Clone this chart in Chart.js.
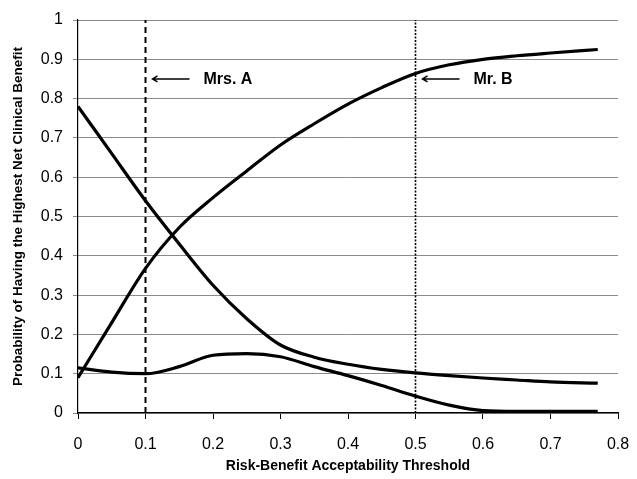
<!DOCTYPE html>
<html>
<head>
<meta charset="utf-8">
<script src="https://cdn.jsdelivr.net/npm/chart.js@4"></script>
<style>
    html, body { margin: 0; padding: 0; background: #fff; }
    #wrap { width: 637px; height: 479px; }
</style>
</head>
<body>
<div id="wrap"><canvas id="netBenefitChart" width="637" height="479"></canvas></div>
<script>
// thresholds on the x axis
const thresholds = [0, 0.05, 0.1, 0.15, 0.2, 0.25, 0.3, 0.35, 0.4, 0.45, 0.5, 0.55, 0.6, 0.65, 0.7, 0.77];
// the three strategies
const falling = [0.78, 0.66, 0.54, 0.43, 0.325, 0.24, 0.173, 0.142, 0.124, 0.111, 0.102, 0.095, 0.089, 0.084, 0.079, 0.076];
const rising = [0.09, 0.23, 0.368, 0.472, 0.548, 0.616, 0.682, 0.736, 0.786, 0.828, 0.864, 0.886, 0.9, 0.909, 0.916, 0.925];
const hump = [0.115, 0.104, 0.10, 0.118, 0.147, 0.151, 0.143, 0.118, 0.095, 0.07, 0.043, 0.02, 0.006, 0.004, 0.004, 0.004];
// patients marked on the chart
const patientNames = ['Mrs. A', 'Mr. B'];
const patientThresholds = [0.1, 0.5];
const patientLabelY = 0.85;
const xTicks = [0, 0.1, 0.2, 0.3, 0.4, 0.5, 0.6, 0.7, 0.8];
const yTicks = [0, 0.1, 0.2, 0.3, 0.4, 0.5, 0.6, 0.7, 0.8, 0.9, 1];

const FONT = '"Liberation Sans", Arial, sans-serif';

function toPoints(values) {
    return values.map((v, i) => ({ x: thresholds[i], y: v }));
}

function curve(values) {
    return {
        data: toPoints(values),
        borderColor: '#000',
        borderWidth: 3.2,
        pointRadius: 0,
        fill: false,
        cubicInterpolationMode: 'monotone'
    };
}

function marker(x, dash, width) {
    return {
        data: [{ x: x, y: 0 }, { x: x, y: 1 }],
        borderColor: '#000',
        borderWidth: width,
        borderDash: dash,
        pointRadius: 0,
        fill: false
    };
}

/**
 * arrows pointing at the marker lines, plus the patient names
 */
const patientLabels = {
    id: 'patientLabels',
    afterDatasetsDraw(chart) {
        const ctx = chart.ctx;
        const xs = chart.scales.x;
        const ys = chart.scales.y;
        const y = ys.getPixelForValue(patientLabelY);
        ctx.save();
        ctx.strokeStyle = '#000';
        ctx.fillStyle = '#000';
        ctx.lineWidth = 1.5;
        patientNames.forEach((name, i) => {
            const x0 = xs.getPixelForValue(patientThresholds[i]) + 7;
            const x1 = x0 + 37;
            ctx.beginPath();
            ctx.moveTo(x1, y);
            ctx.lineTo(x0, y);
            ctx.moveTo(x0 + 5, y - 3);
            ctx.lineTo(x0, y);
            ctx.lineTo(x0 + 5, y + 3);
            ctx.stroke();
            ctx.font = 'bold 16px ' + FONT;
            ctx.textBaseline = 'middle';
            ctx.textAlign = 'left';
            ctx.fillText(name, x1 + 14, y + 1);
        });
        ctx.restore();
    }
};

new Chart(document.querySelector('#netBenefitChart'), {
    type: 'line',
    data: {
        datasets: [
            curve(falling),
            curve(rising),
            curve(hump),
            marker(patientThresholds[0], [6, 4], 2),
            marker(patientThresholds[1], [2, 1.5], 1.6)
        ]
    },
    options: {
        responsive: false,
        animation: false,
        layout: { padding: { top: 20, right: 19, left: 0, bottom: 0 } },
        plugins: {
            legend: { display: false },
            tooltip: { enabled: false }
        },
        scales: {
            x: {
                type: 'linear',
                min: 0,
                max: 0.8,
                afterBuildTicks: (scale) => { scale.ticks = xTicks.map(v => ({ value: v })); },
                afterFit: (scale) => {
                    scale.height = 66;
                    // the last label may hang past the plot edge
                    scale.paddingLeft = 0;
                    scale.paddingRight = 0;
                },
                border: { color: '#000', width: 1.2 },
                grid: { drawOnChartArea: false, color: '#000', tickLength: 6 },
                ticks: {
                    color: '#000',
                    padding: 16,
                    maxRotation: 0,
                    font: { family: FONT, size: 16 },
                    callback: (v) => String(v)
                },
                title: {
                    display: true,
                    text: 'Risk-Benefit Acceptability Threshold',
                    color: '#000',
                    padding: { top: 4, bottom: 4 },
                    font: { family: FONT, size: 14, weight: 'bold' }
                }
            },
            y: {
                min: 0,
                max: 1,
                afterBuildTicks: (scale) => { scale.ticks = yTicks.map(v => ({ value: v })); },
                afterFit: (scale) => { scale.width = 78; },
                border: { color: '#000', width: 1.2 },
                grid: { color: '#8a8a8a', lineWidth: 1, tickLength: 5 },
                ticks: {
                    color: '#000',
                    padding: 10,
                    font: { family: FONT, size: 16 },
                    callback: (v) => String(v)
                },
                title: {
                    display: true,
                    text: 'Probability of Having the Highest Net Clinical Benefit',
                    color: '#000',
                    padding: { top: 10, bottom: 0 },
                    font: { family: FONT, size: 13.5, weight: 'bold' }
                }
            }
        }
    },
    plugins: [patientLabels]
});
</script>
</body>
</html>
